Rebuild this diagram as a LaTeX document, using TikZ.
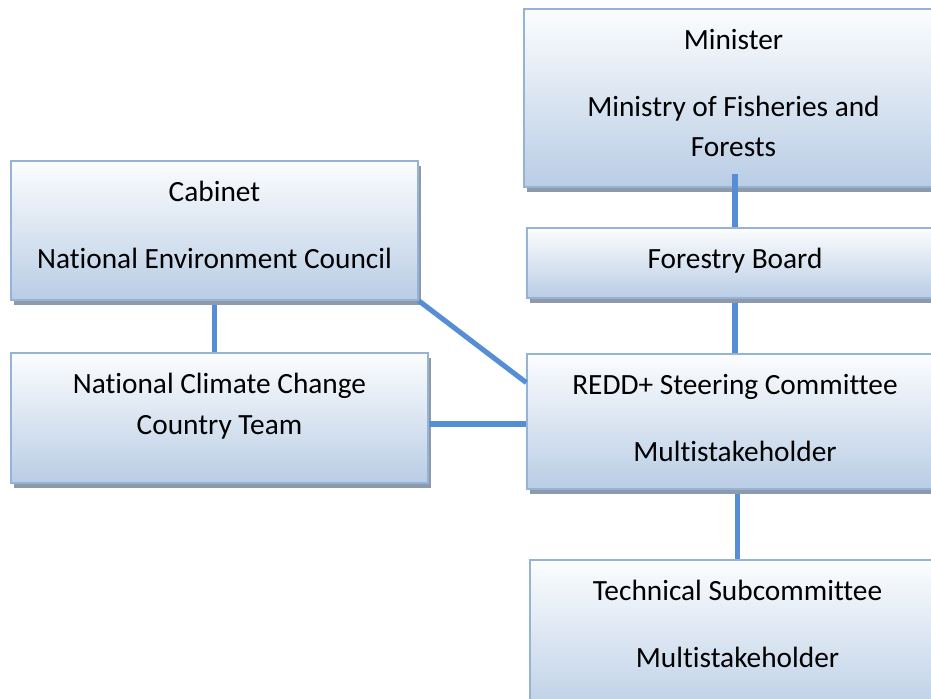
\documentclass[tikz,border=0pt]{standalone}
\usepackage{fontspec}
\setmainfont{Carlito}[Ligatures=CommonOff]
\usetikzlibrary{shadows,calc}

\definecolor{boxline}{HTML}{95B3D7}
\definecolor{boxtop}{HTML}{FCFDFE}
\definecolor{boxbottom}{HTML}{B9CDE5}
\definecolor{boxshadow}{HTML}{8E9AA9}
\definecolor{linkblue}{HTML}{558ED5}

\tikzset{
  unit/.style={draw=boxline, line width=1.1pt, top color=boxtop, bottom color=boxbottom,
    inner sep=0pt,
    drop shadow={shadow xshift=2.5pt, shadow yshift=-3.5pt, fill=boxshadow, opacity=1}},
  unittext/.style={anchor=north, inner sep=0pt, align=center,
    font=\fontsize{22}{30.5}\selectfont},
  link/.style={draw=linkblue, line width=3.8pt}
}

\begin{document}
\begin{tikzpicture}[x=0.75pt, y=-0.75pt]
	\useasboundingbox (0,0) rectangle (931,699);
	\clip (0,0) rectangle (931,699);

	% ministry side
	\node[unit, minimum width=314.25pt, minimum height=133.5pt] (minister) at (733.5,98) {};
	\node[unit, minimum width=312pt, minimum height=52.5pt] (forestry) at (735,263) {};
	\node[unit, minimum width=312pt, minimum height=101.25pt] (redd) at (735,421.5) {};
	\node[unit, minimum width=311.25pt, minimum height=120pt] (technical) at (737.5,640) {};

	% government side
	\node[unit, minimum width=305.25pt, minimum height=104.25pt] (cabinet) at (214.5,230.5) {};
	\node[unit, minimum width=312.75pt, minimum height=97.5pt] (ncc) at (219.5,418) {};

	% texts
	\node[unittext] (minister-t) at ([yshift=-15.5pt]minister.north) {Minister\\[19.5pt]Ministry of Fisheries and\\Forests};
	\node[unittext] (forestry-t) at ([yshift=-15.5pt]forestry.north) {Forestry Board};
	\node[unittext] (redd-t) at ([yshift=-15.5pt]redd.north) {REDD+ Steering Committee\\[19.5pt]Multistakeholder};
	\node[unittext] (technical-t) at ([yshift=-15.5pt]technical.north) {Technical Subcommittee\\[19.5pt]Multistakeholder};
	\node[unittext] (cabinet-t) at ([yshift=-15.5pt]cabinet.north) {Cabinet\\[19.5pt]National Environment Council};
	\node[unittext] (ncc-t) at ([yshift=-15.5pt]ncc.north) {National Climate Change\\Country Team};

	% links
	\draw[link] ([yshift=-3.5pt]cabinet.south) -- (ncc.north -| cabinet.south);
	\draw[link] (cabinet.south east) -- ($(redd.north west)!0.215!(redd.south west)$);
	\draw[link] ([yshift=-4.5pt]ncc.east) -- ([yshift=-4.5pt]ncc.east -| redd.west);
	\draw[link] ([yshift=10.5pt]minister.south -| forestry.north) -- (forestry.north);
	\draw[link] ([yshift=-3.5pt]forestry.south) -- (redd.north);
	\draw[link] ([yshift=-3.5pt]redd.south -| technical.north) -- (technical.north);
\end{tikzpicture}
\end{document}
